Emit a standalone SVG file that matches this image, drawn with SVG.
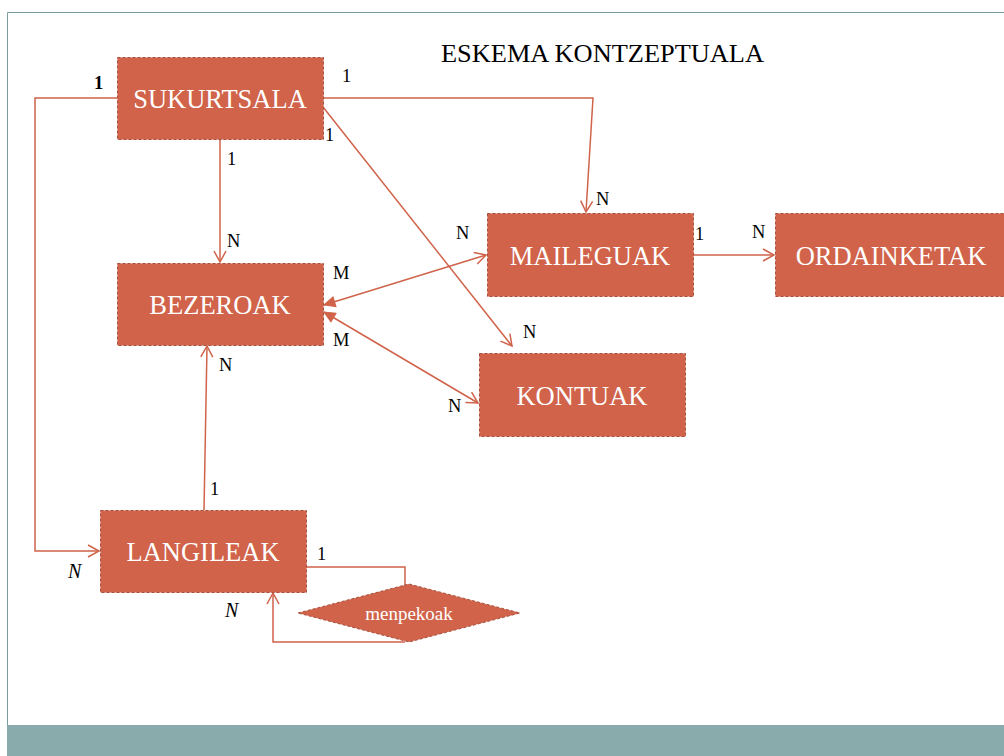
<svg xmlns="http://www.w3.org/2000/svg" width="1004" height="756" viewBox="0 0 1004 756">
<defs>
<style>
.node{fill:#d0634a;stroke:#a9503d;stroke-width:1;stroke-dasharray:3,2}
.nt{font-family:"Liberation Serif",serif;font-size:26.5px;fill:#ffffff;text-anchor:middle}
.c{fill:none;stroke:#d0634a;stroke-width:1.5}
.lb{font-family:"Liberation Serif",serif;font-size:18.5px;fill:#000}
.lbi{font-family:"Liberation Serif",serif;font-size:20px;font-style:italic;fill:#000}
</style>
<marker id="open" markerWidth="14" markerHeight="14" refX="12" refY="7" orient="auto" markerUnits="userSpaceOnUse">
<path d="M1,1 L12,7 L1,13" fill="none" stroke="#d0634a" stroke-width="1.5"/>
</marker>
<marker id="fill" markerWidth="14" markerHeight="14" refX="1" refY="6" orient="auto" markerUnits="userSpaceOnUse">
<path d="M12,1 L1,6 L12,11 Z" fill="#d0634a" stroke="#d0634a" stroke-width="1"/>
</marker>
</defs>
<rect width="1004" height="756" fill="#ffffff"/>
<path d="M7.5,756 L7.5,12.5 L1004,12.5" fill="none" stroke="#7a9e9e" stroke-width="1"/>
<rect x="7" y="725" width="997" height="31" fill="#8aabab"/>
<text x="441" y="62" font-family="Liberation Serif,serif" font-size="26" fill="#000" textLength="323" lengthAdjust="spacingAndGlyphs">ESKEMA KONTZEPTUALA</text>

<g id="connectors">
<path class="c" d="M117,98 L35,98 L35,551 L99,551" marker-end="url(#open)"/>
<path class="c" d="M323,98 L593,98 L586,212" marker-end="url(#open)"/>
<path class="c" d="M323,107 L512,346" marker-end="url(#open)"/>
<path class="c" d="M220,139 L220,262" marker-end="url(#open)"/>
<path class="c" d="M324,305 L486,255" marker-start="url(#fill)" marker-end="url(#open)"/>
<path class="c" d="M324,312 L478,403" marker-start="url(#fill)" marker-end="url(#open)"/>
<path class="c" d="M204,510 L207,346" marker-end="url(#open)"/>
<path class="c" d="M693,255 L774,255" marker-end="url(#open)"/>
<path class="c" d="M306,567 L405,567 L405,585"/>
<path class="c" d="M405,642 L273,642 L273,593" marker-end="url(#open)"/>
</g>

<g id="sukurtsala"><rect class="node" x="117.5" y="57.5" width="206" height="82"/><text class="nt" x="220" y="108">SUKURTSALA</text></g>
<g id="bezeroak"><rect class="node" x="117.5" y="263.5" width="206" height="82"/><text class="nt" x="220" y="314">BEZEROAK</text></g>
<g id="maileguak"><rect class="node" x="487.5" y="213.5" width="206" height="83"/><text class="nt" x="590" y="265">MAILEGUAK</text></g>
<g id="ordainketak"><rect class="node" x="775.5" y="213.5" width="230" height="83"/><text class="nt" x="891" y="265">ORDAINKETAK</text></g>
<g id="kontuak"><rect class="node" x="479.5" y="353.5" width="206" height="83"/><text class="nt" x="582" y="405">KONTUAK</text></g>
<g id="langileak"><rect class="node" x="100.5" y="510.5" width="206" height="82"/><text class="nt" x="203" y="561">LANGILEAK</text></g>
<g id="menpekoak"><polygon class="node" points="298,613 409,584 520,613 409,642"/><text x="409" y="620" font-family="Liberation Serif,serif" font-size="19" fill="#ffffff" text-anchor="middle">menpekoak</text></g>

<g id="labels">
<text class="lb" x="94" y="89" font-size="21" font-weight="bold">1</text>
<text class="lb" x="342" y="82">1</text>
<text class="lb" x="325" y="141">1</text>
<text class="lb" x="227" y="165">1</text>
<text class="lb" x="227" y="247">N</text>
<text class="lb" x="596" y="205">N</text>
<text class="lb" x="456" y="239">N</text>
<text class="lb" x="333" y="279">M</text>
<text class="lb" x="333" y="346">M</text>
<text class="lb" x="523" y="338">N</text>
<text class="lb" x="448" y="412">N</text>
<text class="lb" x="219" y="371">N</text>
<text class="lb" x="695" y="240">1</text>
<text class="lb" x="752" y="238">N</text>
<text class="lb" x="210" y="495">1</text>
<text class="lb" x="317" y="560">1</text>
<text class="lbi" x="68" y="578">N</text>
<text class="lbi" x="225" y="617">N</text>
</g>
</svg>
